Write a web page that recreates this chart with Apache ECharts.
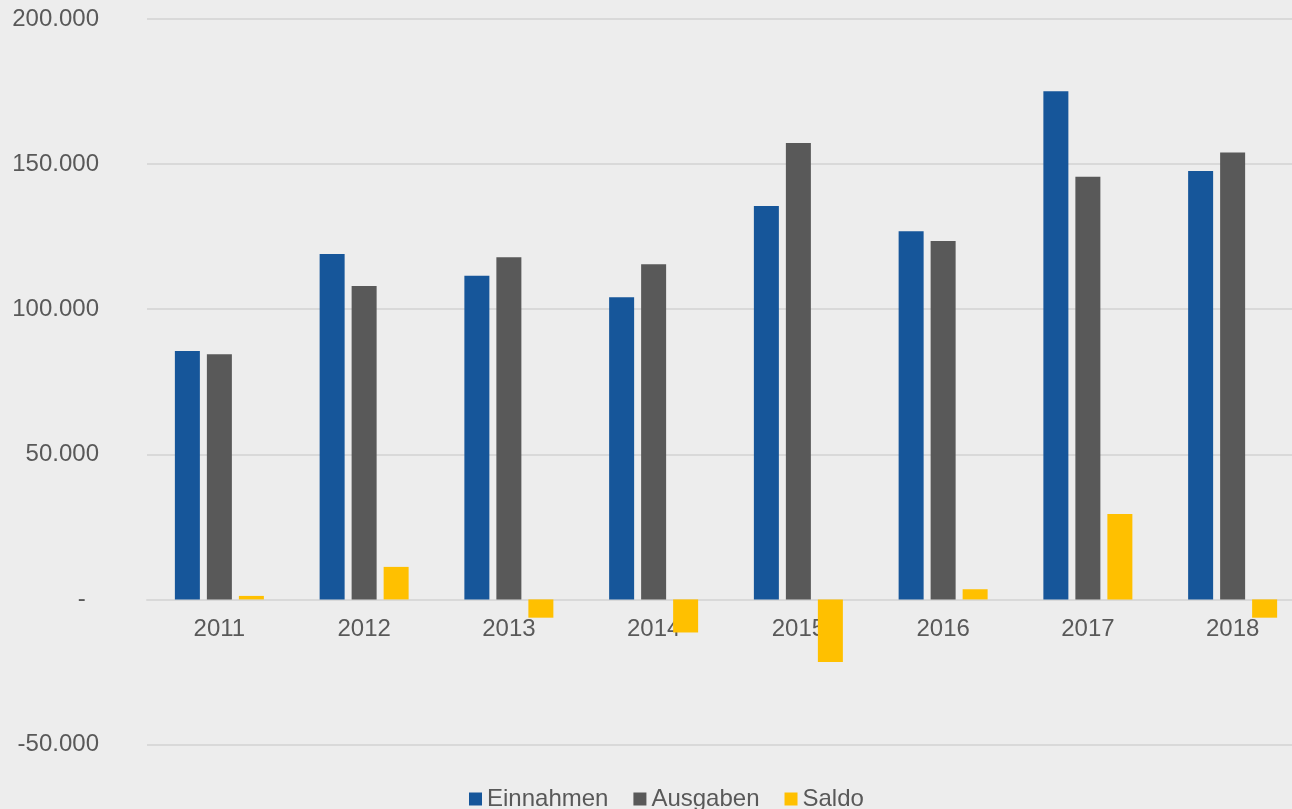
<!DOCTYPE html>
<html>
<head>
<meta charset="utf-8">
<script src="https://cdn.jsdelivr.net/npm/echarts@6/dist/echarts.min.js"></script>
<style>
  html, body { margin: 0; padding: 0; background: #ededed; }
  #chart { width: 1292px; height: 809px; }
</style>
</head>
<body>
<div id="chart"></div>
<script>
const years = ['2011', '2012', '2013', '2014', '2015', '2016', '2017', '2018'];
const einnahmen = [85600, 119000, 111500, 104100, 135600, 126900, 175100, 147600];
const ausgaben = [84500, 108000, 117900, 115500, 157300, 123500, 145600, 154000];
const saldo = [1200, 11200, -6300, -11400, -21600, 3500, 29400, -6300];

const textColor = '#595959';
const fontFamily = '"Liberation Sans", Arial, sans-serif';

function formatTick(v) {
  if (v === 0) return '-  ';
  const s = Math.abs(v).toString().replace(/\B(?=(\d{3})+(?!\d))/g, '.');
  return (v < 0 ? '-' : '') + s;
}

const chart = echarts.init(document.getElementById('chart'));
chart.setOption({
  backgroundColor: '#ededed',
  animation: false,
  textStyle: { fontFamily: fontFamily },
  // plot area runs a little past the right edge, like the cropped original
  grid: {
    left: 147,
    width: 1158,
    top: 19,
    bottom: 64.5,
    containLabel: false,
    outerBoundsMode: 'none',
  },
  legend: {
    left: 464,
    top: 782,
    itemWidth: 13,
    itemHeight: 13,
    itemGap: 25,
    icon: 'rect',
    textStyle: { color: textColor, fontSize: 24, fontFamily: fontFamily },
    data: ['Einnahmen', 'Ausgaben', 'Saldo'],
  },
  xAxis: {
    type: 'category',
    data: years,
    offset: -145,
    axisLine: { lineStyle: { color: '#d9d9d9', width: 2 } },
    axisTick: { show: false },
    axisLabel: { color: textColor, fontSize: 24, margin: 18, fontFamily: fontFamily },
  },
  yAxis: {
    type: 'value',
    min: -50000,
    max: 200000,
    interval: 50000,
    axisLine: { show: false },
    axisTick: { show: false },
    axisLabel: {
      color: textColor,
      fontSize: 24,
      margin: 48,
      fontFamily: fontFamily,
      formatter: formatTick,
    },
    splitLine: { lineStyle: { color: '#d9d9d9', width: 2 } },
  },
  series: [
    {
      name: 'Einnahmen',
      type: 'bar',
      data: einnahmen,
      barWidth: 25,
      barGap: '28%',
      itemStyle: { color: '#16569a' },
    },
    {
      name: 'Ausgaben',
      type: 'bar',
      data: ausgaben,
      barWidth: 25,
      barGap: '28%',
      itemStyle: { color: '#595959' },
    },
    {
      name: 'Saldo',
      type: 'bar',
      data: saldo,
      barWidth: 25,
      barGap: '28%',
      itemStyle: { color: '#ffc000' },
    },
  ],
});
</script>
</body>
</html>
